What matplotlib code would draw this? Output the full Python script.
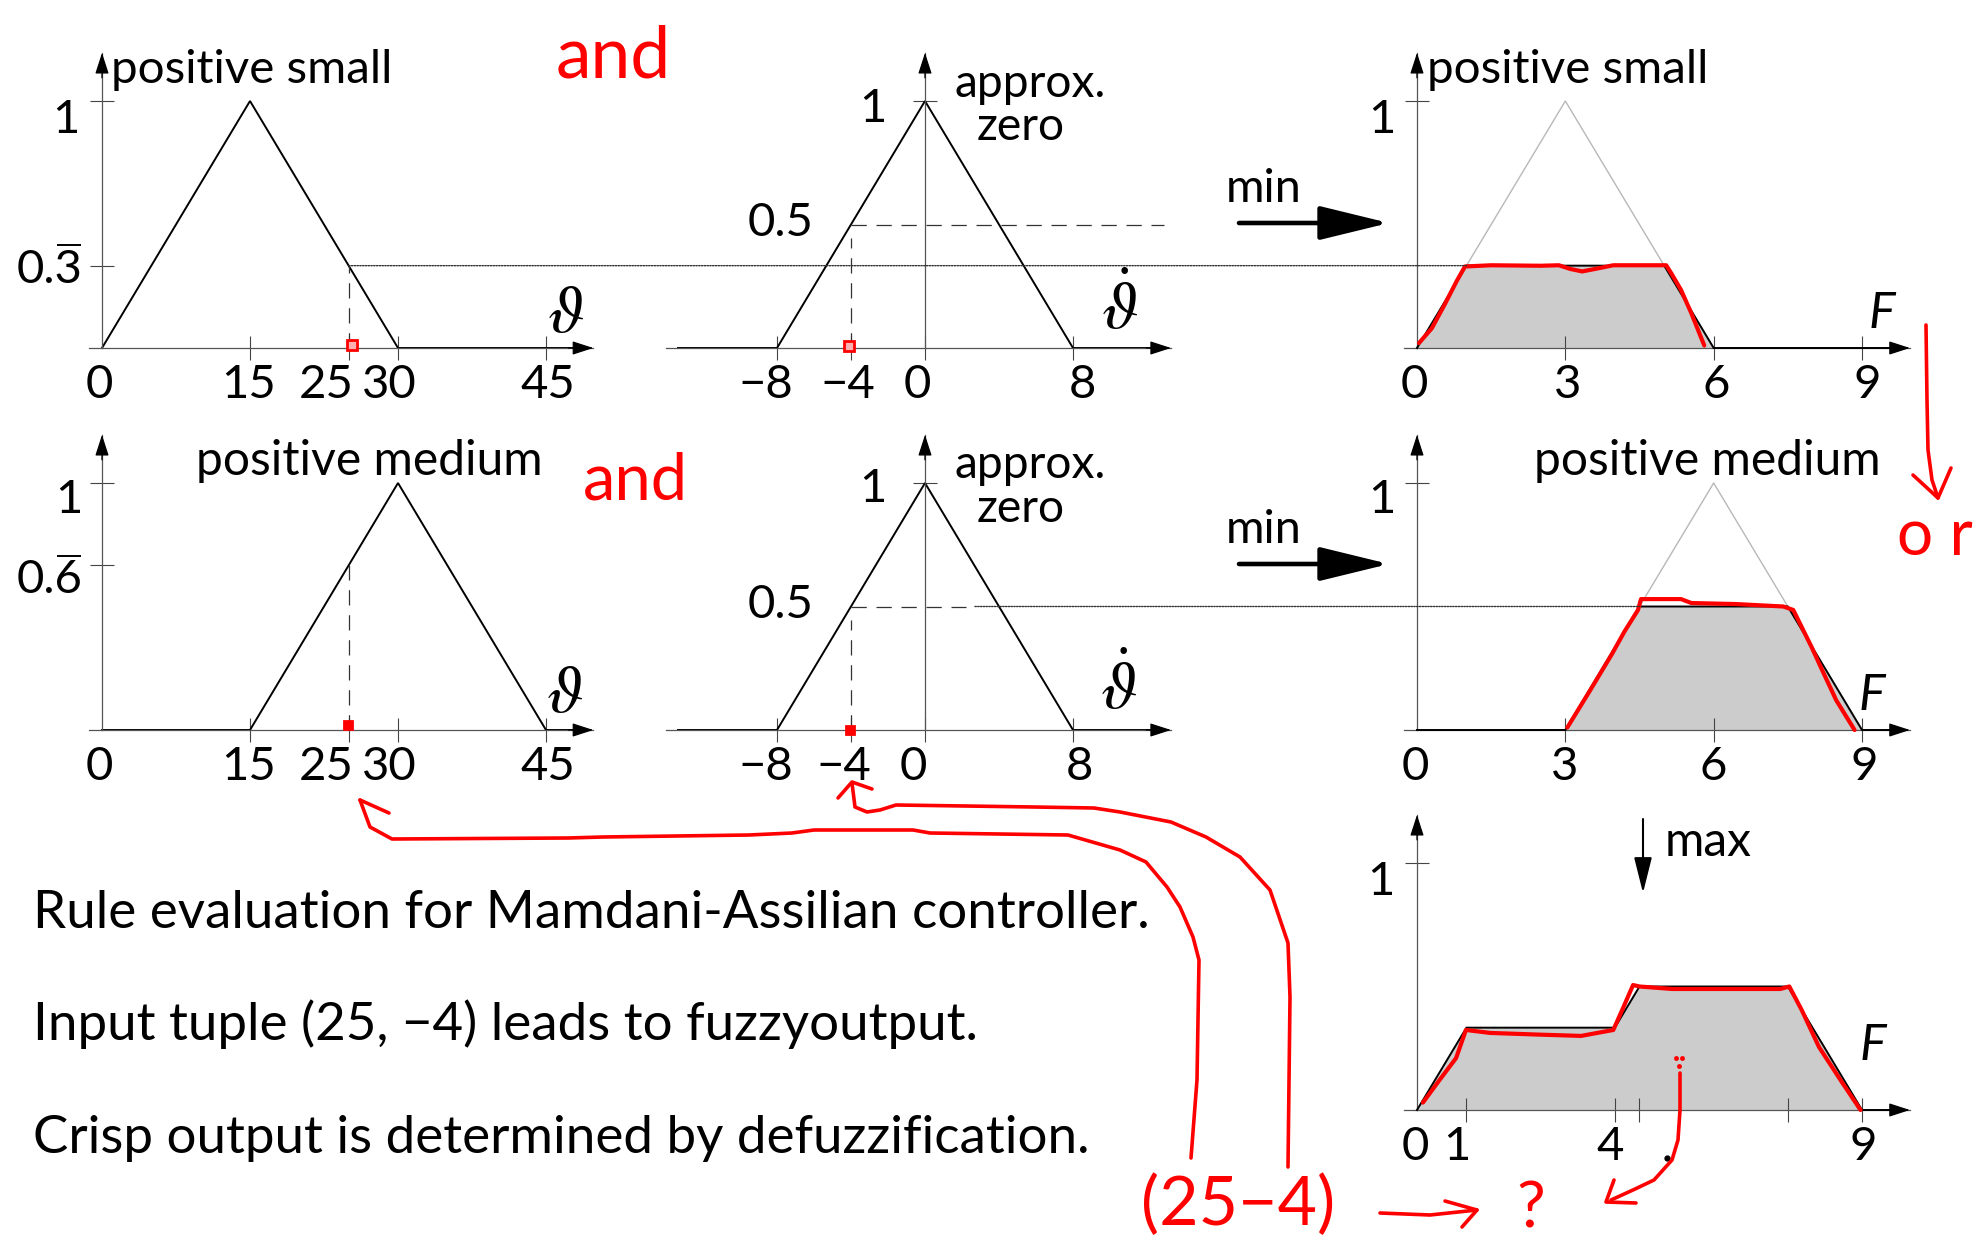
import numpy as np
import matplotlib.pyplot as plt
from matplotlib.patches import ConnectionPatch

plt.rcParams['font.family'] = ['Lato', 'DejaVu Sans']
plt.rcParams['lines.scale_dashes'] = False

W, H = 1978, 1240

# membership functions (triangle corners)
theta_ps = [0, 15, 30]
theta_pm = [15, 30, 45]
dtheta_az = [-8, 0, 8]
force_ps = [0, 3, 6]
force_pm = [3, 6, 9]

# input tuple
theta_in = 25
dtheta_in = -4

# aggregated output
agg_x = [0, 1, 4, 4.5, 7.5, 9]
agg_y = [0, 1 / 3, 1 / 3, 0.5, 0.5, 0]

# ticks and tick labels
theta_marks = [15, 25, 30, 45]
theta_pos = [0, 15, 25, 30, 45]
theta_lab = ['0', '15', '25', '30', '45']
dtheta_marks = [-8, -4, 0, 8]
dtheta_lab = ['\u22128', '\u22124', '0', '8']
force_marks = [3, 6, 9]
force_pos = [0, 3, 6, 9]
force_lab = ['0', '3', '6', '9']
agg_marks = [1, 4, 4.5, 7.5, 9]
agg_pos = [0, 1, 4, 9]
agg_lab = ['0', '1', '4', '9']

# red hand-drawn outlines (panel data units)
red_ps_x = [0.04, 0.3, 0.57, 0.8, 0.97, 1.5, 2.5, 2.87, 3.1, 3.34, 3.6, 3.97, 4.5, 5.04, 5.15, 5.34, 5.55, 5.81]
red_ps_y = [0.02, 0.08, 0.18, 0.27, 0.33, 0.335, 0.333, 0.335, 0.32, 0.31, 0.32, 0.335, 0.335, 0.335, 0.30, 0.235, 0.14, 0.01]
red_pm_x = [3.04, 3.5, 3.95, 4.2, 4.47, 4.53, 5.34, 5.55, 6.44, 7.41, 7.61, 7.98, 8.2, 8.48, 8.85]
red_pm_y = [0.01, 0.16, 0.31, 0.40, 0.486, 0.53, 0.53, 0.514, 0.51, 0.5, 0.486, 0.336, 0.24, 0.12, 0.0]
red_agg_x = [0.12, 0.45, 0.79, 0.99, 1.48, 2.5, 3.32, 3.97, 4.15, 4.37, 4.5, 5.16, 7.35, 7.53, 7.78, 8.13, 8.57, 8.97]
red_agg_y = [0.03, 0.12, 0.21, 0.324, 0.312, 0.305, 0.30, 0.324, 0.405, 0.506, 0.5, 0.49, 0.49, 0.5, 0.405, 0.255, 0.12, 0.0]

# red hand-drawn strokes (picture pixels)
to25_x = [1191, 1197, 1199, 1193, 1180, 1167, 1146, 1120, 1068, 930, 913, 814, 792, 749, 603, 568, 392, 370, 360]
to25_y = [1158, 1080, 960, 937, 907, 887, 862, 850, 835, 833, 830, 830, 833, 835, 837, 838, 839, 827, 800]
to25_barb_x = [360, 389]
to25_barb_y = [800, 813]
to4_x = [1288, 1290, 1288, 1270, 1240, 1206, 1171, 1120, 1094, 1034, 896, 880, 867, 855, 852]
to4_y = [1167, 997, 943, 890, 857, 837, 822, 812, 808, 807, 805, 810, 812, 807, 783]
to4_barb_x = [838, 852, 872]
to4_barb_y = [798, 782, 789]
down_x = [1926, 1927, 1928, 1932, 1938]
down_y = [325, 400, 450, 480, 498]
down_barb_x = [1913, 1938, 1951]
down_barb_y = [475, 498, 468]
impl_x = [1380, 1430, 1477]
impl_y = [1213, 1215, 1210]
impl_barb_x = [1445, 1477, 1462]
impl_barb_y = [1201, 1210, 1227]
curl_x = [1680, 1680, 1678, 1672, 1654, 1633, 1611]
curl_y = [1073, 1110, 1140, 1160, 1180, 1190, 1200]
curl_barb_x = [1614, 1606, 1636]
curl_barb_y = [1180, 1202, 1203]

# degrees of membership and rule strengths
mu_ps = np.interp(theta_in, theta_ps, [0, 1, 0])
mu_pm = np.interp(theta_in, theta_pm, [0, 1, 0])
mu_az = np.interp(dtheta_in, dtheta_az, [0, 1, 0])
r1 = min(mu_ps, mu_az)
r2 = min(mu_pm, mu_az)


def clip(c, lvl):
    a, b, e = c
    return [a, a + lvl * (b - a), e - lvl * (e - b), e], [0, lvl, lvl, 0]


ps_cx, ps_cy = clip(force_ps, r1)
pm_cx, pm_cy = clip(force_pm, r2)

fig = plt.figure(figsize=(W / 100, H / 100), dpi=100)
rend = fig.canvas.get_renderer()

# overlay for free text and hand annotations, in picture pixels
ov = fig.add_axes([0, 0, 1, 1], zorder=10)
ov.set_xlim(0, W)
ov.set_ylim(H, 0)
ov.axis('off')

COL_TH = ((102, 0), (546, 45))
COL_DT = ((777, -8), (1073, 8))
COL_F = ((1417, 0), (1862, 9))
ROWS = [(348, 101), (730, 483), (1110, 863)]
Y_TIP = 1.195
TH_AX, DT_AX, F_AX = (-1.3, 49.8), (-14, 13.3), (-0.26, 9.97)
LAB = 34


def panel(col, row, xlim, ylim=(-0.2, 1.25)):
    (p0, v0), (p1, v1) = col
    base, one = row
    sx = (p1 - p0) / (v1 - v0)
    sy = base - one
    left = p0 + (xlim[0] - v0) * sx
    right = p0 + (xlim[1] - v0) * sx
    top = one - (ylim[1] - 1) * sy
    bottom = base - ylim[0] * sy
    ax = fig.add_axes([left / W, 1 - bottom / H, (right - left) / W, (bottom - top) / H])
    ax.set_xlim(xlim)
    ax.set_ylim(ylim)
    ax.patch.set_visible(False)
    return ax


def frame(ax, xb, xt, yt):
    ax.spines[['top', 'right']].set_visible(False)
    for s in ['bottom', 'left']:
        ax.spines[s].set_position(('data', 0))
        ax.spines[s].set_color('#555555')
        ax.spines[s].set_linewidth(0.9)
    ax.spines['bottom'].set_bounds(*xb)
    ax.spines['left'].set_bounds(0, Y_TIP)
    ax.set_xticks(xt)
    ax.set_yticks(yt)
    ax.tick_params(direction='inout', length=17, width=0.8, color='#444444',
                   labelbottom=False, labelleft=False)
    head = dict(arrowstyle='-|>,head_length=1.3,head_width=0.42', color='k', lw=0.9,
                mutation_scale=10, shrinkA=0, shrinkB=0)
    ax.annotate('', xy=(xb[1], 0), xytext=(-25, 0), textcoords='offset pixels', arrowprops=head)
    ax.annotate('', xy=(0, Y_TIP), xytext=(0, -25), textcoords='offset pixels', arrowprops=head)


def mf(ax, c, lo, hi, **kw):
    ax.plot([lo] + list(c) + [hi], [0, 0, 1, 0, 0], **kw)


def xlabels(ax, pos, labs, dxs, ha='center'):
    for x, s, dx in zip(pos, labs, dxs):
        ax.annotate(s, (x, 0), xytext=(dx, -50), textcoords='offset pixels',
                    ha=ha, va='baseline', fontsize=LAB)


def ylabel(ax, x, y, s, dx, dy, bar=False):
    ax.annotate(s, (x, y), xytext=(dx, -dy), textcoords='offset pixels',
                ha='right', va='baseline', fontsize=LAB)
    if bar:
        # repeating-decimal bar over the last digit
        px, py = ax.transData.transform((x, y))
        right = px + dx
        base = H - py + dy
        em = LAB * 100 / 72
        ov.plot([right - 0.55 * em, right - 0.04 * em], [base - 0.8 * em] * 2,
                color='k', lw=1.4, solid_capstyle='butt')


def sym(ax, x, s, dx, dy, **kw):
    ax.annotate(s, (x, 0), xytext=(dx, dy), textcoords='offset pixels',
                ha='center', va='baseline', **kw)


MF = dict(color='k', lw=1.4, solid_joinstyle='miter')
DASH = dict(color='#333333', lw=0.9, ls=(0, (11, 7)))
DOT = dict(color='#333333', lw=1.0, ls=(0, (1, 1)))
RED = dict(color='#ff0000', lw=3, solid_capstyle='round', solid_joinstyle='round')
TH = dict(fontsize=48, math_fontfamily='stix')
th_dx = [-3, -1, -22, -9, 2]
f_dx = [-3, 2, 3, 5]

# row 1
ax1 = panel(COL_TH, ROWS[0], (-3, 52))
frame(ax1, TH_AX, theta_marks, [1, mu_ps])
mf(ax1, theta_ps, 0, 49.5, **MF)
ax1.plot([theta_in, theta_in], [0, mu_ps], **DASH)
ax1.plot(theta_in + 0.3, 0.012, 's', ms=7, mec='red', mfc='#ffb0b0', mew=2, clip_on=False, zorder=5)
xlabels(ax1, theta_pos, theta_lab, th_dx)
ylabel(ax1, 0, 1, '1', -22, 32)
ylabel(ax1, 0, mu_ps, '0.3', -19, 17, bar=True)
sym(ax1, 45, r'$\vartheta$', 20, 16, **TH)

ax2 = panel(COL_DT, ROWS[0], (-15, 15))
frame(ax2, DT_AX, dtheta_marks, [1])
mf(ax2, dtheta_az, -13.35, 13.0, **MF)
ax2.plot([dtheta_in, dtheta_in], [0, 0.445], **DASH)
ax2.plot([dtheta_in, 12.9], [mu_az, mu_az], **DASH)
ax2.plot(dtheta_in - 0.1, 0.01, 's', ms=7, mec='red', mfc='#ffb0b0', mew=2, clip_on=False, zorder=5)
xlabels(ax2, dtheta_marks, dtheta_lab, [16, 24, 6, 23], ha='right')
ylabel(ax2, 0, 1, '1', -38, 21)
ylabel(ax2, dtheta_in, mu_az, '0.5', -38, 12)
sym(ax2, 8, r'$\dot{\vartheta}$', 47, 19, **TH)

ax3 = panel(COL_F, ROWS[0], (-1, 10.5))
frame(ax3, F_AX, force_marks, [1])
ax3.fill(ps_cx, ps_cy, color='#cccccc', lw=0, zorder=1)
ax3.plot(force_ps, [0, 1, 0], color='#b8b8b8', lw=1.0, zorder=2)
ax3.plot(ps_cx + [9.7], ps_cy + [0], zorder=3, **MF)
ax3.plot(red_ps_x, red_ps_y, zorder=4, **RED)
xlabels(ax3, force_pos, force_lab, f_dx)
ylabel(ax3, 0, 1, '1', -21, 32)
sym(ax3, 9, 'F', 20, 20, fontsize=36, fontstyle='italic')

# row 2
ax4 = panel(COL_TH, ROWS[1], (-3, 52))
frame(ax4, TH_AX, theta_marks, [1, mu_pm])
mf(ax4, theta_pm, 0, 49.5, **MF)
ax4.plot([theta_in, theta_in], [0, mu_pm], **DASH)
ax4.plot(theta_in - 0.1, 0.02, 's', ms=6, mec='red', mfc='red', mew=2, clip_on=False, zorder=5)
xlabels(ax4, theta_pos, theta_lab, th_dx)
ylabel(ax4, 0, 1, '1', -19, 30)
ylabel(ax4, 0, mu_pm, '0.6', -19, 28, bar=True)
sym(ax4, 45, r'$\vartheta$', 19, 18, **TH)

ax5 = panel(COL_DT, ROWS[1], (-15, 15))
frame(ax5, DT_AX, dtheta_marks, [1])
mf(ax5, dtheta_az, -13.35, 13.0, **MF)
ax5.plot([dtheta_in, dtheta_in], [0, 0.445], **DASH)
ax5.plot([dtheta_in, 2.2], [mu_az, mu_az], **DASH)
ax5.plot(dtheta_in - 0.05, 0.0, 's', ms=6, mec='red', mfc='red', mew=2, clip_on=False, zorder=5)
xlabels(ax5, dtheta_marks, dtheta_lab, [16, 20, 2, 20], ha='right')
ylabel(ax5, 0, 1, '1', -38, 19)
ylabel(ax5, dtheta_in, mu_az, '0.5', -38, 12)
sym(ax5, 8, r'$\dot{\vartheta}$', 46, 21, **TH)

ax6 = panel(COL_F, ROWS[1], (-1, 10.5))
frame(ax6, F_AX, force_marks, [1])
ax6.fill(pm_cx, pm_cy, color='#cccccc', lw=0, zorder=1)
ax6.plot(force_pm, [0, 1, 0], color='#b8b8b8', lw=1.0, zorder=2)
ax6.plot([0] + pm_cx + [9.7], [0] + pm_cy + [0], zorder=3, **MF)
ax6.plot(red_pm_x, red_pm_y, zorder=4, **RED)
xlabels(ax6, force_pos, force_lab, [-2, -1, 0, 2])
ylabel(ax6, 0, 1, '1', -21, 30)
sym(ax6, 9, 'F', 10, 20, fontsize=36, fontstyle='italic')

# row 3: aggregation
ax7 = panel(COL_F, ROWS[2], (-1, 10.5))
frame(ax7, F_AX, agg_marks, [1])
ax7.fill(agg_x, agg_y, color='#cccccc', lw=0, zorder=1)
ax7.plot(agg_x + [9.7], agg_y + [0], zorder=3, **MF)
ax7.plot(red_agg_x, red_agg_y, zorder=4, **RED)
xlabels(ax7, agg_pos, agg_lab, [-2, -10, -5, 1])
ylabel(ax7, 0, 1, '1', -22, 32)
sym(ax7, 9, 'F', 11, 50, fontsize=36, fontstyle='italic')

# dotted carry-over lines
fig.add_artist(ConnectionPatch((theta_in, mu_ps), (ps_cx[1], r1), 'data', 'data',
                               axesA=ax1, axesB=ax3, **DOT))
fig.add_artist(ConnectionPatch((theta_in, mu_pm), (15.1, mu_pm), 'data', 'data',
                               axesA=ax4, axesB=ax5, **DOT))
fig.add_artist(ConnectionPatch((2.7, mu_az), (pm_cx[1], r2), 'data', 'data',
                               axesA=ax5, axesB=ax6, **DOT))


def put(x, y, s, width=None, size=30, ha='left', va='baseline', **kw):
    t = ov.text(x, y, s, ha=ha, va=va, fontsize=size, **kw)
    if width:
        w = t.get_window_extent(renderer=rend).width
        t.set_fontsize(size * width / w)
    return t


t = put(111, 83, 'positive small', width=281)
put(1427, 83, 'positive small', size=t.get_fontsize())
t = put(196, 475, 'positive medium', width=346)
put(1534, 475, 'positive medium', size=t.get_fontsize())
t = put(1030, 97, 'approx.', width=151, ha='center')
ps = t.get_fontsize()
put(1021, 140, 'zero', size=ps, ha='center')
put(1030, 478, 'approx.', size=ps, ha='center')
put(1021, 522, 'zero', size=ps, ha='center')
t = put(1226, 202, 'min', width=76)
put(1226, 543, 'min', size=t.get_fontsize())
put(1665, 856, 'max', width=87)

t = put(33, 928, 'Rule evaluation for Mamdani-Assilian controller.', width=1113)
fs = t.get_fontsize()
put(33, 1040, 'Input tuple (25, \u22124) leads to fuzzyoutput.', size=fs)
put(33, 1153, 'Crisp output is determined by defuzzification.', size=fs)

big = dict(arrowstyle='-|>,head_length=4.3,head_width=1.05', color='k', lw=3.3,
           mutation_scale=10, shrinkA=0, shrinkB=0)
ov.annotate('', xy=(1389, 223), xytext=(1239, 223), arrowprops=big)
ov.annotate('', xy=(1389, 564), xytext=(1239, 564), arrowprops=big)
ov.annotate('', xy=(1643, 893), xytext=(1643, 819),
            arrowprops=dict(arrowstyle='-|>,head_length=2.2,head_width=0.55', color='k', lw=1.5,
                            mutation_scale=10, shrinkA=0, shrinkB=0))
ov.plot(1667, 1158, 'o', ms=3.5, color='k')

# red handwriting
put(556, 77, 'and', width=115, color='red')
put(583, 500, 'and', width=105, color='red')
put(1897, 555, 'o r', size=46, color='red')
put(1141, 1225, '(25\u22124)', width=194, color='red')
put(1516, 1238, '?', size=46, color='red', va='bottom')
RS = dict(color='#ff0000', lw=2.6, solid_capstyle='round', solid_joinstyle='round')
for xs, ys in [(to25_x, to25_y), (to25_barb_x, to25_barb_y), (to4_x, to4_y),
               (to4_barb_x, to4_barb_y), (down_x, down_y), (down_barb_x, down_barb_y),
               (impl_x, impl_y), (impl_barb_x, impl_barb_y), (curl_x, curl_y),
               (curl_barb_x, curl_barb_y)]:
    ov.plot(xs, ys, **RS)
ov.plot([1676, 1682, 1679], [1058, 1058, 1066], 'o', ms=2.5, color='red')

fig.savefig('out.png', dpi=100)
